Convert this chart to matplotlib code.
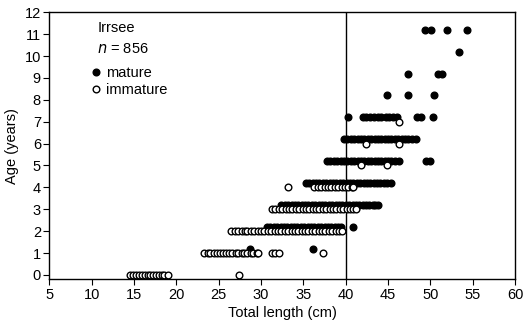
import matplotlib
matplotlib.use("Agg")
import matplotlib.pyplot as plt

plt.rcParams['font.family'] = ['Liberation Sans', 'DejaVu Sans']
plt.rcParams['font.size'] = 10.5

# total length (cm) of fish per age class
imm0 = [14.5, 14.9, 15.2, 15.6, 15.9, 16.3, 16.6, 16.9, 17.3, 17.6, 18.0,
        18.3, 18.6, 19.0, 27.4]
imm1 = [23.3, 23.7, 24.0, 24.4, 24.8, 25.1, 25.5, 25.9, 26.2, 26.6, 27.0,
        27.3, 27.7, 28.0, 28.4, 28.8, 29.1, 29.5, 29.7, 31.3, 31.7, 32.1, 37.3]
imm2 = [26.5, 26.9, 27.3, 27.7, 28.1, 28.4, 28.8, 29.2, 29.6, 30.0, 30.4,
        30.8, 31.2, 31.6, 32.0, 32.4, 32.8, 33.2, 33.6, 34.0, 34.4, 34.8,
        35.2, 35.6, 36.0, 36.4, 36.8, 37.2, 37.6, 38.0, 38.4, 38.8, 39.2, 39.6]
imm3 = [31.3, 31.7, 32.1, 32.5, 32.9, 33.3, 33.7, 34.1, 34.5, 34.9, 35.3,
        35.7, 36.1, 36.5, 36.9, 37.3, 37.7, 38.1, 38.5, 38.9, 39.3, 39.7,
        40.1, 40.5, 40.9, 41.2]
imm4 = [33.2, 36.3, 36.7, 37.1, 37.5, 37.9, 38.3, 38.7, 39.1, 39.5, 39.9,
        40.3, 40.7, 40.9]
imm5 = [41.8, 44.9]
imm6 = [42.4, 46.3]
imm7 = [46.3]

mat1 = [28.7, 36.1]
mat2 = [30.7, 31.1, 31.5, 31.9, 32.3, 32.7, 33.1, 33.5, 33.9, 34.3, 34.7,
        35.1, 35.5, 35.9, 36.3, 36.7, 37.1, 37.5, 37.9, 38.3, 38.7, 39.1,
        39.4, 40.9]
mat3 = [32.4, 32.8, 33.2, 33.6, 34.0, 34.4, 34.8, 35.2, 35.6, 36.0, 36.4,
        36.8, 37.2, 37.6, 38.0, 38.4, 38.8, 39.2, 39.6, 40.0, 40.4, 40.8,
        41.2, 41.6, 42.0, 42.4, 42.8, 43.2, 43.5, 43.8]
mat4 = [35.3, 35.7, 36.1, 36.5, 36.9, 37.3, 37.7, 38.1, 38.5, 38.9, 39.3,
        39.7, 40.1, 40.5, 40.9, 41.3, 41.7, 42.1, 42.5, 42.9, 43.3, 43.7,
        44.1, 44.5, 44.9, 45.3]
mat5 = [37.8, 38.2, 38.6, 39.0, 39.4, 39.8, 40.2, 40.6, 41.0, 41.4, 41.8,
        42.2, 42.6, 43.0, 43.4, 43.8, 44.2, 44.6, 45.0, 45.4, 45.8, 46.3,
        49.5, 49.9]
mat6 = [39.8, 40.2, 40.6, 41.0, 41.4, 41.8, 42.2, 42.6, 43.0, 43.4, 43.8,
        44.2, 44.6, 45.0, 45.4, 45.8, 46.2, 46.6, 47.0, 47.4, 47.8, 48.3]
mat7 = [40.3, 42.0, 42.4, 42.9, 43.3, 43.8, 44.2, 44.7, 45.1, 45.6, 46.0,
        48.4, 48.9, 50.3]
mat8 = [44.9, 47.3, 50.4]
mat9 = [47.3, 50.9, 51.4]
mat10 = [53.4]
mat11 = [49.3, 50.1, 51.9, 54.3]

immature = [imm0, imm1, imm2, imm3, imm4, imm5, imm6, imm7]
mature = [[], mat1, mat2, mat3, mat4, mat5, mat6, mat7, mat8, mat9, mat10, mat11]

x_ticks = list(range(5, 61, 5))
y_ticks = list(range(0, 13))

fig = plt.figure(figsize=(5.27, 3.24), dpi=100)
ax = fig.add_axes([0.0935, 0.138, 0.884, 0.824])

# mature fish are drawn 0.2 yr above their age so both groups show
mx, my = [], []
for age, lens in enumerate(mature):
    mx += lens
    my += [age + 0.2] * len(lens)
ix, iy = [], []
for age, lens in enumerate(immature):
    ix += lens
    iy += [age] * len(lens)

h1, = ax.plot(mx, my, 'o', ms=4.8, mfc='black', mec='black', mew=1.0,
              ls='none', zorder=3, label='mature')
h2, = ax.plot(ix, iy, 'o', ms=4.8, mfc='white', mec='black', mew=1.0,
              ls='none', zorder=4, label='immature')

ax.axvline(40, color='black', lw=1, zorder=2)

ax.set_xlim(5, 60)
ax.set_ylim(-0.2, 12)
ax.set_xticks(x_ticks)
ax.set_yticks(y_ticks)
ax.tick_params(direction='out', length=4, width=0.8, pad=2)
for s in ax.spines.values():
    s.set_linewidth(1)

ax.set_xlabel('Total length (cm)', labelpad=3)
ax.set_ylabel('Age (years)', labelpad=4)

ax.text(0.103, 0.943, 'Irrsee', transform=ax.transAxes, va='center')
ax.text(0.103, 0.863, r'$\it{n}$ = 856', transform=ax.transAxes, va='center')
ax.legend(handles=[h1, h2], loc='upper left', bbox_to_anchor=(0.09, 0.80),
          frameon=False, handlelength=0.6, handletextpad=0.4,
          labelspacing=0.2, borderpad=0, borderaxespad=0)

fig.savefig('out.png', dpi=100)
